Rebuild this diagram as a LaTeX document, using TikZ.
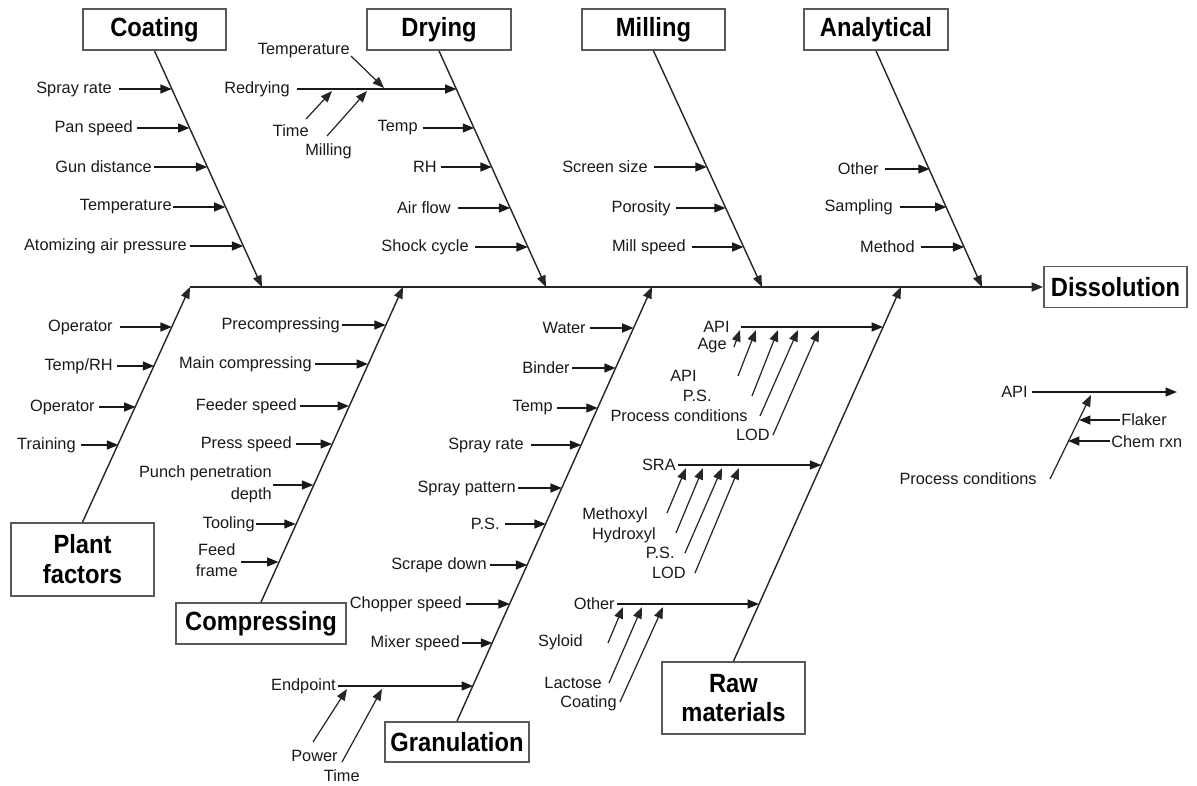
\documentclass[tikz,border=0pt]{standalone}
\usepackage{fontspec}
\setmainfont{Liberation Sans}
\newfontfamily\titlefont{Liberation Sans}[FakeStretch=0.9]
\usetikzlibrary{arrows.meta}
\tikzset{
  lab/.style={font=\fontsize{9.3}{12.3}\selectfont, inner sep=0pt, text=black!90},
  arr/.style={-{Triangle[length=6.5pt,width=5pt]}, line width=1.1pt, black!90},
  thin arr/.style={-{Triangle[length=6.5pt,width=5pt]}, line width=0.7pt, black!85},
  bone/.style={-{Triangle[length=6.5pt,width=5pt]}, line width=0.8pt, black!85},
  box/.style={draw=black!65, line width=1pt, fill=white, inner sep=0pt, align=center,
    font=\titlefont\bfseries\fontsize{15}{17}\selectfont},
}
% name, text, text right x, arrow start x, y, tip x
\newcommand\fbrib[6]{%
  \node[lab,anchor=east] (#1) at (#3,#5) {#2};
  \coordinate (#1a) at (#4,#5);
  \coordinate (#1t) at (#6,#5);
  \draw[arr] (#1a) -- (#1t);}
% name, text, text right x, y, start, tip
\newcommand\fbsub[6]{%
  \node[lab,anchor=east] (#1) at (#3,#4) {#2};
  \coordinate (#1a) at #5;
  \coordinate (#1t) at #6;
  \draw[thin arr] (#1a) -- (#1t);}
\begin{document}
\begin{tikzpicture}[x=0.02cm,y=-0.02cm]
\useasboundingbox (0,0) rectangle (1197,785);
% ---------- category boxes ----------
\node[box, minimum width=2.86cm, minimum height=0.82cm] (coat) at (154.5,29.5) {Coating};
\node[box, minimum width=2.88cm, minimum height=0.82cm] (dry) at (439,29.5) {Drying};
\node[box, minimum width=2.86cm, minimum height=0.82cm] (mill) at (653.5,29.5) {Milling};
\node[box, minimum width=2.88cm, minimum height=0.82cm] (anal) at (876,29.5) {Analytical};
\node[box, minimum width=2.86cm, minimum height=0.82cm] (diss) at (1115.5,287) {Dissolution};
\node[box, minimum width=2.86cm, minimum height=1.46cm] (pf) at (82.5,559.5) {Plant\\factors};
\node[box, minimum width=3.4cm, minimum height=0.82cm] (comp) at (261,623.5) {Compressing};
\node[box, minimum width=2.88cm, minimum height=0.8cm] (gran) at (457,742) {Granulation};
\node[box, minimum width=2.86cm, minimum height=1.44cm] (raw) at (733.5,698) {Raw\\materials};
% ---------- spine ----------
\coordinate (sL) at (190,287);
\draw[bone, line width=1.2pt] (sL) -- (diss.west);
% ---------- main bones ----------
\coordinate (bCoat) at (262,287);
\coordinate (bDry) at (546,287);
\coordinate (bMill) at (762,287);
\coordinate (bAnal) at (982,287);
\coordinate (bComp) at (403,287);
\coordinate (bGran) at (652,287);
\coordinate (bRaw) at (901,287);
\draw[bone] (coat.south) -- (bCoat);
\draw[bone] (dry.south) -- (bDry);
\draw[bone] (mill.south) -- (bMill);
\draw[bone] (anal.south) -- (bAnal);
\draw[bone] (pf.north) -- (sL);
\draw[bone] (comp.north) -- (bComp);
\draw[bone] (gran.north) -- (bGran);
\draw[bone] (raw.north) -- (bRaw);
% ---------- Coating ----------
\fbrib{c1}{Spray rate}{112}{119}{89}{171.8}
\fbrib{c2}{Pan speed}{133}{137}{128}{189.5}
\fbrib{c3}{Gun distance}{152}{154}{167}{207.3}
\fbrib{c4}{Temperature}{172}{173}{207}{225.5}
\fbrib{c5}{Atomizing air pressure}{187}{190}{246}{243.3}
% ---------- Drying ----------
\fbrib{d1}{Redrying}{290}{297}{89}{456.6}
\fbrib{d2}{Temp}{418}{423}{128}{474.2}
\fbrib{d3}{RH}{437}{441}{167}{491.8}
\fbrib{d4}{Air flow}{451}{458}{208}{510.3}
\fbrib{d5}{Shock cycle}{469}{475}{247}{527.9}
\fbsub{d1s1}{Temperature}{350}{51}{(351,56)}{(384,88)}
\fbsub{d1s2}{Time}{309}{131}{(306,119)}{(332,91)}
\fbsub{d1s3}{Milling}{352}{151}{(327,136)}{(367,91)}
% ---------- Milling ----------
\fbrib{m1}{Screen size}{648}{654}{167}{706.8}
\fbrib{m2}{Porosity}{671}{676}{208}{725.7}
\fbrib{m3}{Mill speed}{686}{692}{247}{743.6}
% ---------- Analytical ----------
\fbrib{a1}{Other}{879}{885}{169}{929.7}
\fbrib{a2}{Sampling}{893}{900}{207}{946.6}
\fbrib{a3}{Method}{915}{921}{247}{964.3}
% ---------- Plant factors ----------
\fbrib{p1}{Operator}{113}{120}{327}{171.9}
\fbrib{p2}{Temp/RH}{113}{117}{366}{154.2}
\fbrib{p3}{Operator}{95}{99}{407}{135.6}
\fbrib{p4}{Training}{76}{81}{445}{118.4}
% ---------- Compressing ----------
\fbrib{k1}{Precompressing}{340}{342}{325}{385.8}
\fbrib{k2}{Main compressing}{312}{315}{364}{368.1}
\fbrib{k3}{Feeder speed}{297}{300}{406}{349.1}
\fbrib{k4}{Press speed}{292}{296}{444}{332}
\node[lab, anchor=east, align=right] (k5) at (272,484) {Punch penetration\\depth};
\coordinate (k5a) at (273,485);
\coordinate (k5t) at (313.4,485);
\draw[arr] (k5a) -- (k5t);
\fbrib{k6}{Tooling}{255}{256}{524}{295.7}
\node[lab, anchor=east, align=center] (k7) at (238,560) {Feed\\frame};
\coordinate (k7a) at (241,562);
\coordinate (k7t) at (278.6,562);
\draw[arr] (k7a) -- (k7t);
% ---------- Granulation ----------
\fbrib{g1}{Water}{586}{590}{328}{633.6}
\fbrib{g2}{Binder}{570}{572}{368}{615.7}
\fbrib{g3}{Temp}{553}{557}{408}{597.8}
\fbrib{g4}{Spray rate}{524}{531}{445}{581.2}
\fbrib{g5}{Spray pattern}{516}{518}{488}{561.9}
\fbrib{g6}{P.S.}{500}{505}{524}{545.8}
\fbrib{g7}{Scrape down}{487}{490}{565}{527.4}
\fbrib{g8}{Chopper speed}{462}{466}{604}{509.9}
\fbrib{g9}{Mixer speed}{460}{462}{643}{492.4}
\fbrib{g10}{Endpoint}{336}{338}{686}{473.1}
\fbsub{g10s1}{Power}{338}{756}{(313,742)}{(347,689)}
\fbsub{g10s2}{Time}{360}{776}{(342,762)}{(382,689)}
% ---------- Raw materials ----------
\fbrib{r1}{API}{730}{741}{327}{883.1}
\fbsub{r1s1}{Age}{727}{346}{(734,347)}{(740,330)}
\fbsub{r1s2}{API}{697}{376}{(738,376)}{(756,330)}
\fbsub{r1s3}{P.S.}{712}{396}{(752,396)}{(778,330)}
\fbsub{r1s4}{Process conditions}{748}{416}{(760,416)}{(798,330)}
\fbsub{r1s5}{LOD}{770}{435}{(773,435)}{(819,330)}
\fbrib{r2}{SRA}{676}{678}{465}{821.3}
\fbsub{r2s1}{Methoxyl}{648}{515}{(667,513)}{(686,468)}
\fbsub{r2s2}{Hydroxyl}{656}{535}{(676,533)}{(703,468)}
\fbsub{r2s3}{P.S.}{675}{553}{(685,553)}{(722,468)}
\fbsub{r2s4}{LOD}{686}{573}{(695,573)}{(739,468)}
\fbrib{r3}{Other}{615}{617}{604}{759}
\fbsub{r3s1}{Syloid}{583}{642}{(608,643)}{(623,607)}
\fbsub{r3s2}{Lactose}{602}{683}{(609,683)}{(642,607)}
\fbsub{r3s3}{Coating}{617}{703}{(620,702)}{(663,607)}
% ---------- API fragment (right) ----------
\node[lab, anchor=east] (x1) at (1028,392) {API};
\coordinate (x1a) at (1032,392);
\coordinate (x1t) at (1177,392);
\draw[arr] (x1a) -- (x1t);
\node[lab, anchor=east] (x2) at (1037,479) {Process conditions};
\coordinate (x2a) at (1050,479);
\coordinate (x2t) at (1091,395);
\draw[thin arr] (x2a) -- (x2t);
\node[lab, anchor=west] (x3) at (1121,420) {Flaker};
\coordinate (x3a) at (1120,420);
\coordinate (x3t) at (1079,420);
\draw[arr] (x3a) -- (x3t);
\node[lab, anchor=west] (x4) at (1111,442) {Chem rxn};
\coordinate (x4a) at (1110,441);
\coordinate (x4t) at (1068,441);
\draw[arr] (x4a) -- (x4t);
\end{tikzpicture}
\end{document}
